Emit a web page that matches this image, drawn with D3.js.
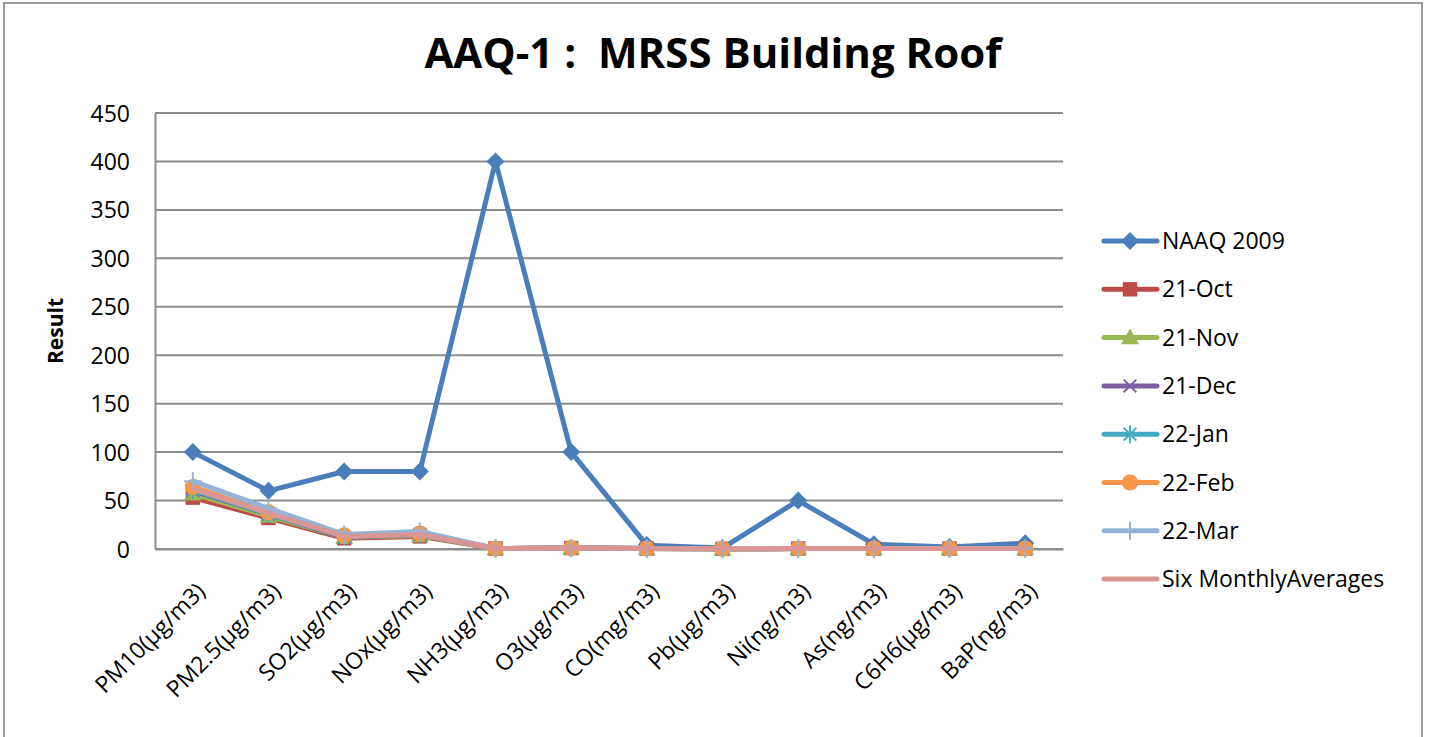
<!DOCTYPE html>
<html>
<head>
<meta charset="utf-8">
<script src="https://cdn.jsdelivr.net/npm/d3@7"></script>
<style>
  body { margin: 0; background: #fff; }
  text { font-family: "Open Sans", "Liberation Sans", sans-serif; fill: #000; }
</style>
</head>
<body>
<div id="chart"></div>
<script>
// categories
const categories = ['PM10(µg/m3)', 'PM2.5(µg/m3)', 'SO2(µg/m3)', 'NOx(µg/m3)', 'NH3(µg/m3)', 'O3(µg/m3)',
    'CO(mg/m3)', 'Pb(µg/m3)', 'Ni(ng/m3)', 'As(ng/m3)', 'C6H6(µg/m3)', 'BaP(ng/m3)'];

// series values
const naaq2009 = [100, 60, 80, 80, 400, 100, 4, 1, 50, 5, 2, 6];
const oct21 = [53, 32, 11, 13, 0.5, 1, 0.5, 0.2, 0.5, 0.5, 0.5, 0.5];
const nov21 = [57, 34, 12, 14, 0.5, 1, 0.5, 0.2, 0.5, 0.5, 0.5, 0.5];
const dec21 = [60, 36, 12, 15, 0.5, 1, 0.5, 0.2, 0.5, 0.5, 0.5, 0.5];
const jan22 = [61, 36, 13, 15, 0.5, 1, 0.5, 0.2, 0.5, 0.5, 0.5, 0.5];
const feb22 = [64, 38, 14, 16, 0.5, 1, 0.5, 0.2, 0.5, 0.5, 0.5, 0.5];
const mar22 = [70, 42, 15, 18, 0.5, 1, 0.5, 0.2, 0.5, 0.5, 0.5, 0.5];
const sixMonthAvg = [62, 37, 13, 15, 0.5, 1, 0.5, 0.2, 0.5, 0.5, 0.5, 0.5];

// y tick labels
const yTicks = [0, 50, 100, 150, 200, 250, 300, 350, 400, 450];

const series = [
    { name: 'NAAQ 2009', values: naaq2009, color: '#4A7EBB', marker: 'diamond' },
    { name: '21-Oct', values: oct21, color: '#BE4B48', marker: 'square' },
    { name: '21-Nov', values: nov21, color: '#98B954', marker: 'triangle' },
    { name: '21-Dec', values: dec21, color: '#7D60A0', marker: 'x' },
    { name: '22-Jan', values: jan22, color: '#46AAC5', marker: 'star' },
    { name: '22-Feb', values: feb22, color: '#F79646', marker: 'circle' },
    { name: '22-Mar', values: mar22, color: '#95B3D7', marker: 'plus' },
    { name: 'Six MonthlyAverages', values: sixMonthAvg, color: '#D99694', marker: 'none' }
];

const width = 1431, height = 737;
const plot = { left: 155, right: 1063, top: 113, bottom: 549 };

const svg = d3.select('#chart').append('svg')
    .attr('width', width)
    .attr('height', height);

// outer frame
svg.append('rect')
    .attr('x', 4).attr('y', 3)
    .attr('width', 1418).attr('height', 760)
    .attr('fill', '#fff')
    .attr('stroke', '#9a9a9a')
    .attr('stroke-width', 2);

const x = d3.scaleBand()
    .domain(categories)
    .range([plot.left, plot.right]);

const y = d3.scaleLinear()
    .domain([0, 450])
    .range([plot.bottom, plot.top]);

// gridlines
svg.append('g').selectAll('line')
    .data(yTicks)
    .enter().append('line')
    .attr('x1', plot.left).attr('x2', plot.right)
    .attr('y1', d => y(d)).attr('y2', d => y(d))
    .attr('stroke', '#8c8c8c')
    .attr('stroke-width', 2);

// y axis
const yAxis = d3.axisLeft(y).tickValues(yTicks).tickSize(0).tickPadding(25);
const yg = svg.append('g')
    .attr('transform', `translate(${plot.left},0)`)
    .call(yAxis);
yg.select('.domain').attr('stroke', '#8c8c8c').attr('stroke-width', 2);
yg.selectAll('.tick text').style('font-size', '23px').attr('dy', '0.35em');

// x axis
const xAxis = d3.axisBottom(x).tickSize(0).tickSizeOuter(0);
const xg = svg.append('g')
    .attr('transform', `translate(0,${plot.bottom})`)
    .call(xAxis);
xg.select('.domain').attr('stroke', '#8c8c8c').attr('stroke-width', 2);
xg.selectAll('.tick text')
    .style('font-size', '23px')
    .attr('text-anchor', 'end')
    .attr('x', 0).attr('y', 0)
    .attr('dy', '0.35em')
    .attr('transform', 'translate(8,38) rotate(-45)');

// title
svg.append('text')
    .attr('x', 713).attr('y', 68)
    .attr('text-anchor', 'middle')
    .style('font-size', '42px')
    .style('font-weight', 'bold')
    .style('white-space', 'pre')
    .text('AAQ-1 :\u00a0 MRSS Building Roof');

// y label
svg.append('text')
    .attr('transform', `translate(63,331) rotate(-90)`)
    .attr('text-anchor', 'middle')
    .style('font-size', '21px')
    .style('font-weight', 'bold')
    .text('Result');

function drawMarker(g, type, color, size) {
    const s = size;
    if (type === 'diamond') {
        g.append('path').attr('d', `M0,${-s}L${s},0L0,${s}L${-s},0Z`).attr('fill', color);
    } else if (type === 'square') {
        g.append('rect').attr('x', -s * 0.8).attr('y', -s * 0.8)
            .attr('width', s * 1.6).attr('height', s * 1.6).attr('fill', color);
    } else if (type === 'triangle') {
        g.append('path').attr('d', `M0,${-s}L${s},${s * 0.75}L${-s},${s * 0.75}Z`).attr('fill', color);
    } else if (type === 'circle') {
        g.append('circle').attr('r', s * 0.9).attr('fill', color);
    } else if (type === 'x') {
        g.append('path').attr('d', `M${-s * 0.7},${-s * 0.7}L${s * 0.7},${s * 0.7}M${s * 0.7},${-s * 0.7}L${-s * 0.7},${s * 0.7}`)
            .attr('stroke', color).attr('stroke-width', 2);
    } else if (type === 'star') {
        g.append('path').attr('d', `M${-s * 0.7},${-s * 0.7}L${s * 0.7},${s * 0.7}M${s * 0.7},${-s * 0.7}L${-s * 0.7},${s * 0.7}M0,${-s}L0,${s}`)
            .attr('stroke', color).attr('stroke-width', 2);
    } else if (type === 'plus') {
        g.append('path').attr('d', `M0,${-s}L0,${s}M${-s},0L${s},0`)
            .attr('stroke', color).attr('stroke-width', 2);
    }
}

const line = d3.line()
    .x((d, i) => x(categories[i]) + x.bandwidth() / 2)
    .y(d => y(d));

series.forEach(s => {
    const g = svg.append('g');
    g.append('path')
        .datum(s.values)
        .attr('d', line)
        .attr('fill', 'none')
        .attr('stroke', s.color)
        .attr('stroke-width', 5)
        .attr('stroke-linejoin', 'round');
    if (s.marker !== 'none') {
        s.values.forEach((v, i) => {
            const m = g.append('g')
                .attr('transform', `translate(${x(categories[i]) + x.bandwidth() / 2},${y(v)})`);
            drawMarker(m, s.marker, s.color, 9);
        });
    }
});

// legend
const legend = svg.append('g');
series.forEach((s, i) => {
    const ly = 241 + i * 48.3;
    const lg = legend.append('g').attr('transform', `translate(0,${ly})`);
    lg.append('line')
        .attr('x1', 1104).attr('x2', 1157)
        .attr('y1', 0).attr('y2', 0)
        .attr('stroke', s.color)
        .attr('stroke-width', 5)
        .attr('stroke-linecap', 'round');
    if (s.marker !== 'none') {
        const m = lg.append('g').attr('transform', 'translate(1130,0)');
        drawMarker(m, s.marker, s.color, 9);
    }
    lg.append('text')
        .attr('x', 1162).attr('y', 0)
        .attr('dy', '0.35em')
        .style('font-size', '23px')
        .text(s.name);
});
</script>
</body>
</html>
